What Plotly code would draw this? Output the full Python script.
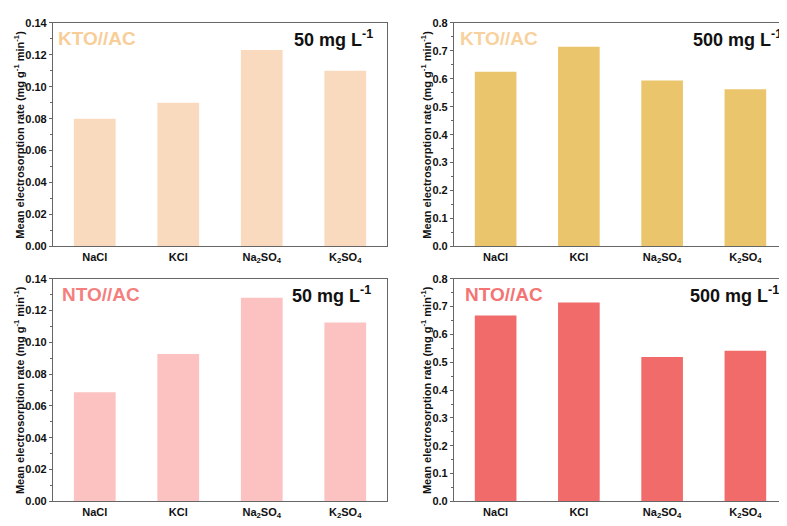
import plotly.graph_objects as go

categories = ["NaCl", "KCl", "Na<sub>2</sub>SO<sub>4</sub>", "K<sub>2</sub>SO<sub>4</sub>"]
kto_50 = [0.080, 0.090, 0.123, 0.110]
kto_500 = [0.625, 0.714, 0.594, 0.562]
nto_50 = [0.0687, 0.0927, 0.128, 0.1125]
nto_500 = [0.668, 0.715, 0.519, 0.541]

y_title = "Mean electrosorption rate (mg g<sup>-1</sup> min<sup>-1</sup>)"
FONT = "Arial, Liberation Sans, sans-serif"
OFF = 8  # page body margin
PW, PH = 787, 526
W, H = PW - OFF, PH - OFF

def fx(px):
    return (px - OFF) / W

def fy(py):
    return 1 - (py - OFF) / H

panels = [
    # data, bar color, label, label color, conc, x px, y px, yrange, dtick, minor, mirror, label left, conc right, title x
    (kto_50, "#F9DABF", "KTO//AC", "#F8CE98", "50 mg L<sup>-1</sup>", (53, 387), (17, 246), 0.14, 0.02, 0.01, True, 58, 373, 19),
    (kto_500, "#EBC56B", "KTO//AC", "#F8D29E", "500 mg L<sup>-1</sup>", (454, 788), (17, 246), 0.8, 0.1, 0.05, False, 460, 782, 426),
    (nto_50, "#FCC1C1", "NTO//AC", "#F47F7F", "50 mg L<sup>-1</sup>", (53, 387), (279, 507), 0.14, 0.02, 0.01, True, 62, 371, 19),
    (nto_500, "#F06B6A", "NTO//AC", "#F47474", "500 mg L<sup>-1</sup>", (454, 788), (279, 507), 0.8, 0.1, 0.05, False, 465, 779, 426),
]

fig = go.Figure()
annotations = []
for i, (vals, col, lab, labcol, conc, xp, yp, ymax, dt, mdt, mir, labx, concx, tx) in enumerate(panels, start=1):
    xa = "x" if i == 1 else f"x{i}"
    ya = "y" if i == 1 else f"y{i}"
    fig.add_trace(go.Bar(x=categories, y=vals, marker=dict(color=col, line=dict(width=0)),
                         xaxis=xa, yaxis=ya, showlegend=False, width=0.5))
    xdom = [fx(xp[0]), min(fx(xp[1]), 1.0)]
    ydom = [fy(yp[1]), fy(yp[0])]
    xkey = "xaxis" if i == 1 else f"xaxis{i}"
    ykey = "yaxis" if i == 1 else f"yaxis{i}"
    fig.layout[xkey] = dict(domain=xdom, anchor=ya, showline=True, linecolor="#666666", linewidth=1.2,
                            mirror=True, ticks="", showgrid=False,
                            tickfont=dict(family=FONT, size=11, color="#111111", weight="bold"))
    fig.layout[ykey] = dict(domain=ydom, anchor=xa, range=[0, ymax], dtick=dt, tick0=0,
                            tickformat=".2f" if ymax < 0.5 else ".1f",
                            showline=True, linecolor="#666666", linewidth=1.2, mirror=mir,
                            ticks="outside", ticklen=3, tickcolor="#666666", showgrid=False, zeroline=False,
                            minor=dict(dtick=mdt, ticks="outside", ticklen=2, tickcolor="#666666"),
                            tickfont=dict(family=FONT, size=11, color="#111111", weight="bold"))
    mid_y = fy((yp[0] + yp[1]) / 2)
    annotations.append(dict(x=fx(tx), y=mid_y, xref="paper", yref="paper", text=f"<b>{y_title}</b>",
                            textangle=-90, showarrow=False, xanchor="center", yanchor="middle",
                            font=dict(family=FONT, size=11, color="#111111")))
    annotations.append(dict(x=fx(labx), y=fy(yp[0] + 16), xref="paper", yref="paper",
                            text=f"<b>{lab}</b>", showarrow=False, xanchor="left", yanchor="middle",
                            xshift=-2, font=dict(family=FONT, size=19, color=labcol)))
    annotations.append(dict(x=fx(concx), y=fy(yp[0] + 16), xref="paper", yref="paper",
                            text=f"<b>{conc}</b>", showarrow=False, xanchor="right", yanchor="middle",
                            xshift=2, font=dict(family=FONT, size=18, color="#111111")))

fig.update_layout(width=W, height=H, margin=dict(l=0, r=0, t=0, b=0),
                  paper_bgcolor="white", plot_bgcolor="white", annotations=annotations,
                  bargap=0.5)
fig.write_html("out.html")
